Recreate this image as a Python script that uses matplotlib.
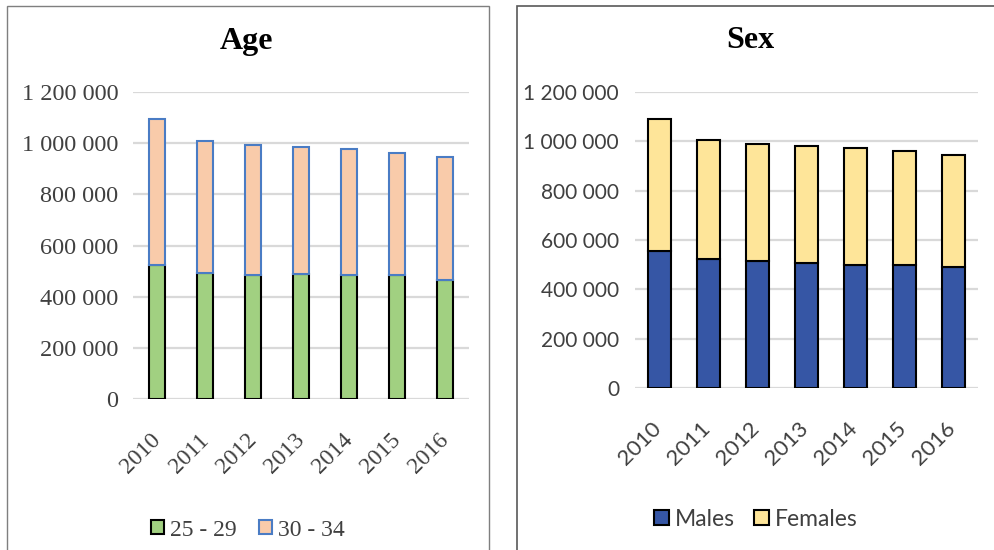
import matplotlib
matplotlib.use("Agg")
import matplotlib.pyplot as plt
import matplotlib.transforms as mtransforms
from matplotlib.patches import Rectangle
from matplotlib.ticker import FuncFormatter

years = ["2010", "2011", "2012", "2013", "2014", "2015", "2016"]

# Age groups
age_25_29 = [522000, 492000, 483000, 490000, 483000, 483000, 466000]
age_total = [1096000, 1009000, 993000, 985000, 977000, 962000, 944000]
age_30_34 = [t - a for t, a in zip(age_total, age_25_29)]

# Sex
males = [556000, 524000, 515000, 507000, 499000, 500000, 490000]
sex_total = [1089000, 1007000, 991000, 983000, 974000, 959000, 943000]
females = [t - m for t, m in zip(sex_total, males)]

y_ticks = [0, 200000, 400000, 600000, 800000, 1000000, 1200000]

TXT = "#404040"


def fmt(v, pos):
    return f"{int(v):,}".replace(",", " ")


def style_axis(ax, font, ysize, xsize, ypad, xshift):
    ax.set_ylim(0, 1200000)
    ax.set_xlim(-0.5, len(years) - 0.5)
    ax.set_yticks(y_ticks)
    ax.yaxis.set_major_formatter(FuncFormatter(fmt))
    ax.grid(axis="y", color="#d9d9d9", linewidth=1.6)
    ax.set_axisbelow(True)
    for s in ax.spines.values():
        s.set_visible(False)
    ax.tick_params(length=0)
    ax.tick_params(axis="y", pad=ypad, labelsize=ysize, labelcolor=TXT)
    ax.tick_params(axis="x", pad=22, labelsize=xsize, labelcolor=TXT)
    ax.set_xticks(range(len(years)))
    ax.set_xticklabels(years, rotation=45, ha="right")
    off = mtransforms.ScaledTranslation(xshift / 100, 0, fig.dpi_scale_trans)
    for lab in ax.get_xticklabels():
        lab.set_family(font)
        lab.set_transform(lab.get_transform() + off)
    for lab in ax.get_yticklabels():
        lab.set_family(font)


fig = plt.figure(figsize=(9.95, 5.5), dpi=100)

# panel frames
fig.patches.append(Rectangle((7 / 995, -0.02), (489 - 7) / 995, 1.02 - 6 / 550,
                             transform=fig.transFigure, fill=False,
                             edgecolor="#7f7f7f", linewidth=1.0))
fig.patches.append(Rectangle((517 / 995, -0.02), 0.6, 1.02 - 6 / 550,
                             transform=fig.transFigure, fill=False,
                             edgecolor="#595959", linewidth=1.2))

# ---- Age ----
ax1 = fig.add_axes([133 / 995, 1 - 399 / 550, (469 - 133) / 995, (399 - 92) / 550])
x = range(len(years))
b1 = ax1.bar(x, age_25_29, width=0.35, color="#a1d081", edgecolor="black",
             linewidth=1.5, label="25 - 29")
b2 = ax1.bar(x, age_30_34, width=0.35, bottom=age_25_29, color="#f9cbaa",
             edgecolor="#4a7cc4", linewidth=1.5, label="30 - 34")
style_axis(ax1, "Liberation Serif", 17.5, 17, 10.5, 8)
fig.text(247 / 995, 1 - 41 / 550, "Age", ha="center", va="center",
         family="Liberation Serif", fontsize=23, fontweight="bold")
fig.legend(handles=[b1, b2], loc="center", bbox_to_anchor=(248 / 995, 1 - 530 / 550),
           ncol=2, frameon=False, prop={"family": "Liberation Serif", "size": 17},
           handlelength=0.55, handleheight=0.55, handletextpad=0.25, columnspacing=0.95,
           labelcolor=TXT)

# ---- Sex ----
ax2 = fig.add_axes([635 / 995, 1 - 388 / 550, (978 - 635) / 995, (388 - 92) / 550])
b3 = ax2.bar(x, males, width=0.45, color="#3656a5", edgecolor="black",
             linewidth=1.5, label="Males")
b4 = ax2.bar(x, females, width=0.45, bottom=males, color="#fee599",
             edgecolor="black", linewidth=1.5, label="Females")
style_axis(ax2, "Lato", 15, 16, 11.5, 6)
fig.text(750 / 995, 1 - 41 / 550, "Sex", ha="center", va="center",
         family="Liberation Serif", fontsize=23, fontweight="bold")
fig.legend(handles=[b3, b4], loc="center", bbox_to_anchor=(756 / 995, 1 - 519 / 550),
           ncol=2, frameon=False, prop={"family": "Lato", "size": 16.5},
           handlelength=0.65, handleheight=0.65, handletextpad=0.25, columnspacing=0.85,
           labelcolor=TXT)

fig.savefig("out.png", dpi=100)
